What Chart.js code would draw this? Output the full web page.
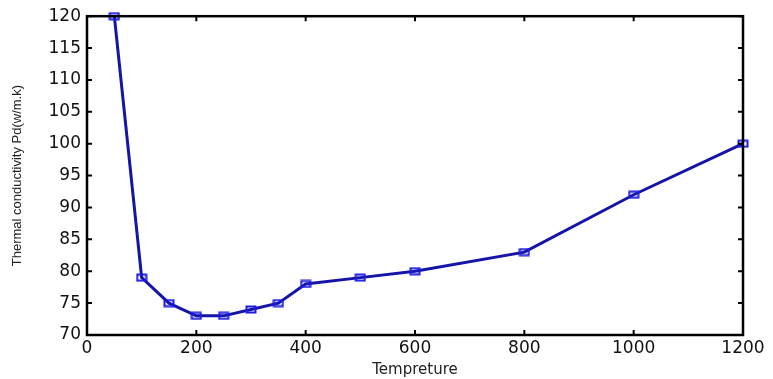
<!DOCTYPE html>
<html>
<head>
<meta charset="utf-8">
<script src="https://cdn.jsdelivr.net/npm/chart.js@4/dist/chart.umd.min.js"></script>
<style>
  html, body { margin: 0; padding: 0; background: #fff; }
  #wrap { width: 773px; height: 379px; }
</style>
</head>
<body>
<div id="wrap"><canvas id="c" width="773" height="379"></canvas></div>
<script>
// data
const temps = [50, 100, 150, 200, 250, 300, 350, 400, 500, 600, 800, 1000, 1200];
const conductivity = [120, 79, 75, 73, 73, 74, 75, 78, 79, 80, 83, 92, 100];
const xTicks = [0, 200, 400, 600, 800, 1000, 1200];
const yTicks = [70, 75, 80, 85, 90, 95, 100, 105, 110, 115, 120];

// small open rectangle marker like the matlab one
function makeMarker() {
    const c = document.createElement('canvas');
    c.width = 12; c.height = 9;
    const g = c.getContext('2d');
    g.strokeStyle = '#1c1ce0';
    g.lineWidth = 2;
    g.strokeRect(1.5, 1.5, 9, 6);
    return c;
}

// matlab style box + inward ticks on all four sides
const boxPlugin = {
    id: 'box',
    afterDatasetsDraw(chart) {
        const { ctx, chartArea: a, scales } = chart;
        ctx.save();
        ctx.strokeStyle = '#000';
        ctx.lineWidth = 2.5;
        ctx.strokeRect(a.left, a.top, a.right - a.left, a.bottom - a.top);
        ctx.lineWidth = 2;
        const len = 5;
        xTicks.forEach(v => {
            const x = scales.x.getPixelForValue(v);
            ctx.beginPath();
            ctx.moveTo(x, a.bottom); ctx.lineTo(x, a.bottom - len);
            ctx.moveTo(x, a.top); ctx.lineTo(x, a.top + len);
            ctx.stroke();
        });
        yTicks.forEach(v => {
            const y = scales.y.getPixelForValue(v);
            ctx.beginPath();
            ctx.moveTo(a.left, y); ctx.lineTo(a.left + len, y);
            ctx.moveTo(a.right, y); ctx.lineTo(a.right - len, y);
            ctx.stroke();
        });
        ctx.restore();
    }
};

const tickFont = { family: "'DejaVu Sans', sans-serif", size: 17 };

new Chart(document.getElementById('c'), {
    type: 'line',
    data: {
        datasets: [{
            data: temps.map((t, i) => ({ x: t, y: conductivity[i] })),
            borderColor: '#1414a8',
            borderWidth: 3,
            pointStyle: makeMarker(),
            pointRadius: 5,
            tension: 0,
            clip: false
        }]
    },
    options: {
        responsive: false,
        animation: false,
        layout: { padding: { top: 14, right: 30, bottom: 0, left: 0 } },
        plugins: { legend: { display: false }, tooltip: { enabled: false } },
        scales: {
            x: {
                type: 'linear',
                min: 0, max: 1200,
                afterBuildTicks: s => { s.ticks = xTicks.map(v => ({ value: v })); },
                afterFit: s => { s.height = 44; },
                grid: { display: false, drawTicks: false },
                border: { display: false },
                ticks: { color: '#111', font: tickFont, padding: 3, maxRotation: 0, callback: v => String(v) },
                title: {
                    display: true, text: 'Tempreture', color: '#222',
                    font: { family: "'DejaVu Sans', sans-serif", size: 15 },
                    padding: { top: 0, bottom: 0 }
                }
            },
            y: {
                min: 70, max: 120,
                afterBuildTicks: s => { s.ticks = yTicks.map(v => ({ value: v })); },
                afterFit: s => { s.width = 87; },
                grid: { display: false, drawTicks: false },
                border: { display: false },
                ticks: { color: '#111', font: tickFont, padding: 6, callback: v => String(v) },
                title: {
                    display: true, text: 'Thermal conductivity Pd(w/m.k)', color: '#222',
                    font: { family: "'Liberation Sans', sans-serif", size: 13 },
                    padding: { top: 10, bottom: 0 }
                }
            }
        }
    },
    plugins: [boxPlugin]
});
</script>
</body>
</html>
